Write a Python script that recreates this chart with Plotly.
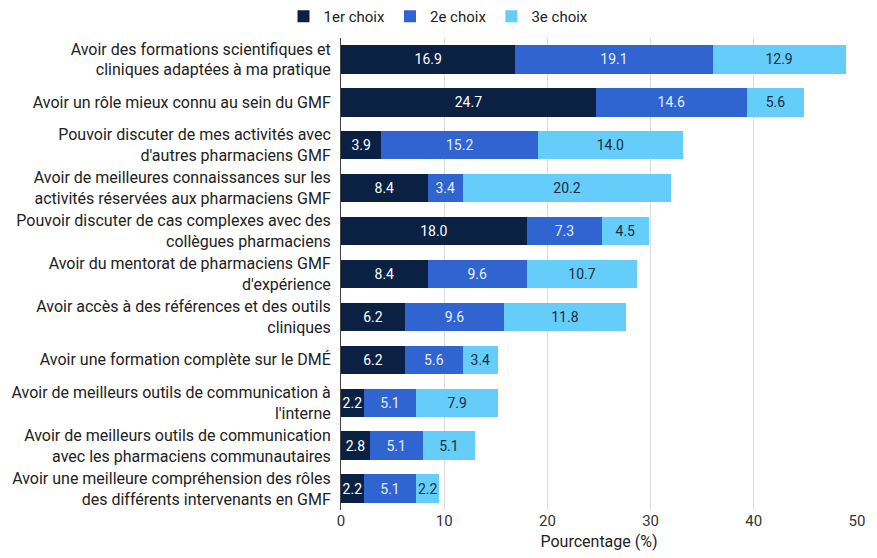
import plotly.graph_objects as go

categories = [
    "Avoir des formations scientifiques et<br>cliniques adaptées à ma pratique",
    "Avoir un rôle mieux connu au sein du GMF",
    "Pouvoir discuter de mes activités avec<br>d'autres pharmaciens GMF",
    "Avoir de meilleures connaissances sur les<br>activités réservées aux pharmaciens GMF",
    "Pouvoir discuter de cas complexes avec des<br>collègues pharmaciens",
    "Avoir du mentorat de pharmaciens GMF<br>d'expérience",
    "Avoir accès à des références et des outils<br>cliniques",
    "Avoir une formation complète sur le DMÉ",
    "Avoir de meilleurs outils de communication à<br>l'interne",
    "Avoir de meilleurs outils de communication<br>avec les pharmaciens communautaires",
    "Avoir une meilleure compréhension des rôles<br>des différents intervenants en GMF",
]
choix1 = [16.9, 24.7, 3.9, 8.4, 18.0, 8.4, 6.2, 6.2, 2.2, 2.8, 2.2]
choix2 = [19.1, 14.6, 15.2, 3.4, 7.3, 9.6, 9.6, 5.6, 5.1, 5.1, 5.1]
choix3 = [12.9, 5.6, 14.0, 20.2, 4.5, 10.7, 11.8, 3.4, 7.9, 5.1, 2.2]
series_names = ["1er choix", "2e choix", "3e choix"]
x_ticks = [0, 10, 20, 30, 40, 50]

colors = ["#0b2144", "#3064d0", "#64cdfa"]
text_colors = ["#ffffff", "#e6ecfb", "#1f2a3a"]
FONT = "Roboto"

fig = go.Figure()
for name, vals, c, tc in zip(series_names, [choix1, choix2, choix3], colors, text_colors):
    fig.add_trace(go.Bar(
        y=categories, x=vals, name=name, orientation="h",
        marker=dict(color=c, line=dict(width=0)),
        text=[f"{v:.1f}" for v in vals], textposition="inside",
        insidetextanchor="middle", textangle=0,
        textfont=dict(color=tc, size=14, family=FONT),
        cliponaxis=False,
    ))

fig.update_layout(
    barmode="stack", bargap=0.34,
    width=877, height=558,
    margin=dict(l=341, r=20, t=38, b=48, autoexpand=False),
    paper_bgcolor="white", plot_bgcolor="white",
    font=dict(family=FONT, size=15, color="#222222"),
    uniformtext=dict(minsize=14, mode="show"),
    legend=dict(orientation="h", xref="container", x=0.5, xanchor="center",
                yref="container", y=1.0, yanchor="top",
                font=dict(size=15, color="#222222"), traceorder="normal",
                itemwidth=30),
    showlegend=True,
)
fig.update_xaxes(range=[0, 50], tickvals=x_ticks, showgrid=True, gridcolor="#dddddd",
                 zeroline=False, ticks="", tickfont=dict(size=15, color="#333333"),
                 automargin=False,
                 title=dict(text="Pourcentage (%)", standoff=6, font=dict(size=16, color="#222222")))
fig.update_yaxes(autorange="reversed", showline=True, linecolor="#444444", linewidth=1,
                 automargin=False,
                 ticks="", tickfont=dict(size=16, color="#222222"), ticklabelstandoff=6)

fig.write_html("out.html", config={"displayModeBar": False},
               post_script="document.body.style.margin='0';document.body.style.overflow='hidden';")
